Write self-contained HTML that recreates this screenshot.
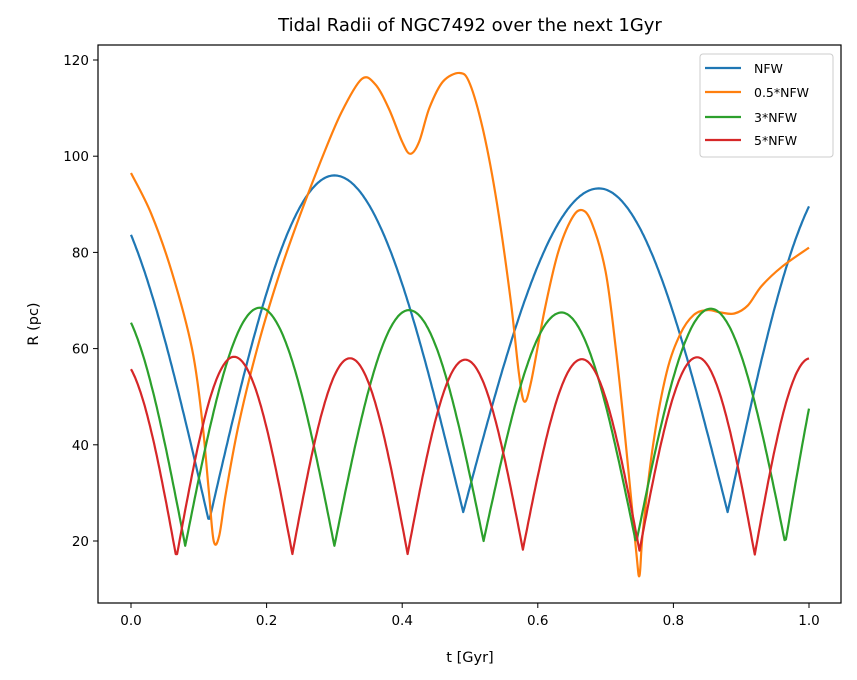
<!DOCTYPE html>
<html><head><meta charset="utf-8"><style>
html,body{margin:0;padding:0;background:#fff;}
svg{display:block;font-family:"DejaVu Sans","Liberation Sans",sans-serif;}
</style></head><body>
<svg id="s" width="857" height="680" viewBox="0 0 857 680" xmlns="http://www.w3.org/2000/svg">
<rect width="857" height="680" fill="#fff"/>
<text x="470" y="31" font-size="18" text-anchor="middle">Tidal Radii of NGC7492 over the next 1Gyr</text>
<g id="series" fill="none" stroke-width="2.2" stroke-linejoin="round"></g>
<rect x="98" y="45" width="743" height="558" fill="none" stroke="#000" stroke-width="1.2"/>
<g id="ticks" font-size="13.5"></g>
<text x="470" y="662" font-size="14.5" text-anchor="middle">t [Gyr]</text>
<text x="38" y="324" font-size="14.5" text-anchor="middle" transform="rotate(-90 38 324)">R (pc)</text>
<rect x="700" y="54" width="133" height="103" rx="3" fill="#fff" stroke="#ccc" stroke-width="1"/>
<g stroke-width="2.2">
<line x1="705" y1="68" x2="741" y2="68" stroke="#1f77b4"/>
<line x1="705" y1="92" x2="741" y2="92" stroke="#ff7f0e"/>
<line x1="705" y1="117" x2="741" y2="117" stroke="#2ca02c"/>
<line x1="705" y1="140" x2="741" y2="140" stroke="#d62728"/>
</g>
<g font-size="12.5">
<text x="754" y="73">NFW</text>
<text x="754" y="97">0.5*NFW</text>
<text x="754" y="122">3*NFW</text>
<text x="754" y="145">5*NFW</text>
</g>
</svg>
<script>
const X=t=>131+678*t, Y=v=>541-4.81*(v-20);
const NS="http://www.w3.org/2000/svg";
const tk=document.getElementById('ticks');
function el(n,a,p,txt){const e=document.createElementNS(NS,n);for(const k in a)e.setAttribute(k,a[k]);if(txt!==undefined)e.textContent=txt;p.appendChild(e);return e;}
for(let i=0;i<=5;i++){const t=i*0.2,x=X(t);el('line',{x1:x,y1:603,x2:x,y2:608,stroke:'#000'},tk);el('text',{x:x,y:625,'text-anchor':'middle'},tk,t.toFixed(1));}
for(let v=20;v<=120;v+=20){const y=Y(v);el('line',{x1:93,y1:y,x2:98,y2:y,stroke:'#000'},tk);el('text',{x:89,y:y+5,'text-anchor':'end'},tk,String(v));}
function arch(knots,t0,t1){const pts=[];for(let t=t0;t<=t1+1e-9;t+=0.002){let i=0;while(i<knots.length-2&&t>knots[i+1][0])i++;const a=knots[i],b=knots[i+1];let mn,pk,s;if(a[2]==='m'){mn=a;pk=b;s=(t-a[0])/(b[0]-a[0]);}else{mn=b;pk=a;s=(b[0]-t)/(b[0]-a[0]);}s=Math.max(0,Math.min(1,s));const v=mn[1]+(pk[1]-mn[1])*Math.sin(Math.PI/2*s);pts.push(X(t).toFixed(1)+','+Y(v).toFixed(1));}return pts.join(' ');}
function cr(P){let d='M'+P[0][0].toFixed(1)+','+P[0][1].toFixed(1);for(let i=0;i<P.length-1;i++){const p0=P[Math.max(0,i-1)],p1=P[i],p2=P[i+1],p3=P[Math.min(P.length-1,i+2)];const c1=[p1[0]+(p2[0]-p0[0])/6,p1[1]+(p2[1]-p0[1])/6],c2=[p2[0]-(p3[0]-p1[0])/6,p2[1]-(p3[1]-p1[1])/6];d+=' C'+c1.map(v=>v.toFixed(1))+' '+c2.map(v=>v.toFixed(1))+' '+p2.map(v=>v.toFixed(1));}return d;}
const g=document.getElementById('series');
const blue=[[-0.07,96,'p'],[0.115,24,'m'],[0.30,96,'p'],[0.49,26,'m'],[0.69,93.3,'p'],[0.88,26,'m'],[1.05,97,'p']];
const green=[[-0.03,70,'p'],[0.08,19,'m'],[0.19,68.5,'p'],[0.30,19,'m'],[0.41,68,'p'],[0.52,20,'m'],[0.635,67.5,'p'],[0.745,19.5,'m'],[0.855,68.3,'p'],[0.965,19.5,'m'],[1.075,78,'p']];
const red=[[-0.018,58,'p'],[0.067,16.5,'m'],[0.152,58.3,'p'],[0.238,17.3,'m'],[0.323,58,'p'],[0.408,17.3,'m'],[0.493,57.7,'p'],[0.578,18.2,'m'],[0.665,57.8,'p'],[0.75,18,'m'],[0.835,58.2,'p'],[0.92,17.2,'m'],[1.002,58,'p']];
const orange=[[0,96.5],[0.03,88],[0.06,76],[0.09,60],[0.105,45],[0.115,30],[0.122,20],[0.13,21],[0.14,30],[0.16,45],[0.19,62],[0.22,76],[0.25,88],[0.28,99],[0.31,109],[0.34,116],[0.36,115],[0.38,110],[0.40,103],[0.412,100.5],[0.425,103],[0.44,110],[0.46,115.5],[0.485,117.3],[0.50,115],[0.52,105],[0.54,90],[0.56,70],[0.572,55],[0.58,49],[0.59,53],[0.61,68],[0.63,80],[0.65,87],[0.665,88.8],[0.68,86],[0.70,76],[0.715,60],[0.73,40],[0.745,18],[0.75,12.8],[0.755,22],[0.77,40],[0.79,55],[0.81,63],[0.83,67],[0.85,68],[0.87,67.5],[0.89,67.3],[0.91,69],[0.93,73],[0.96,77],[1.0,81]].map(p=>[X(p[0]),Y(p[1])]);
el('polyline',{points:arch(blue,0,1),stroke:'#1f77b4'},g);
el('path',{d:cr(orange),stroke:'#ff7f0e'},g);
el('polyline',{points:arch(green,0,1),stroke:'#2ca02c'},g);
el('polyline',{points:arch(red,0,1),stroke:'#d62728'},g);
</script>
</body></html>
